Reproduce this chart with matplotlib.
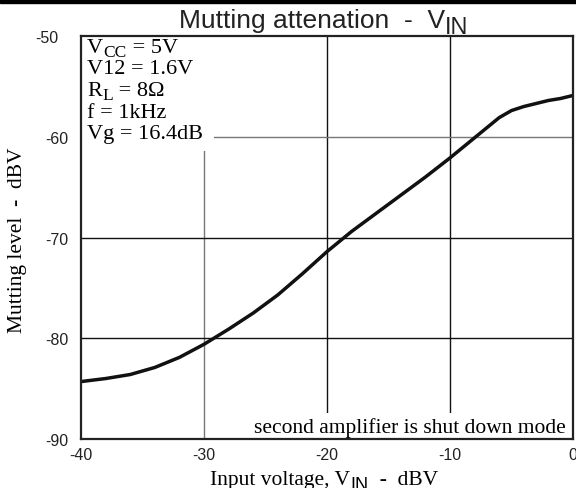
import matplotlib
matplotlib.use("Agg")
import matplotlib.pyplot as plt
from matplotlib.patches import Rectangle
import matplotlib.transforms as mtransforms

plt.rcParams['axes.unicode_minus'] = False

# Data
vin = [-40, -38, -36, -34, -32, -30, -28, -26, -24, -22, -20, -18, -16, -14,
       -12, -10, -8, -6, -5, -4, -3, -2, -1, 0]
mute = [-84.3, -84.0, -83.6, -82.9, -81.9, -80.6, -79.1, -77.5, -75.7, -73.6,
        -71.4, -69.4, -67.6, -65.8, -64.0, -62.1, -60.1, -58.1, -57.4, -57.0,
        -56.7, -56.4, -56.2, -55.9]
xticks = [-40, -30, -20, -10, 0]
yticks = [-90, -80, -70, -60, -50]
# (main, subscript, rest)
conditions = [('V', 'CC', ' = 5V'), ('V12 = 1.6V', '', ''), ('R', 'L', ' = 8Ω'),
              ('f = 1kHz', '', ''), ('Vg = 16.4dB', '', '')]

W, H = 576, 489
fig = plt.figure(figsize=(W/100, H/100), dpi=100)
fig.patches.append(Rectangle((0, 1 - 4/H), 1, 4/H, transform=fig.transFigure,
                             color='black', zorder=5))
L, R, T, B = 81, 573, 37, 440
ax = fig.add_axes([L/W, 1 - B/H, (R - L)/W, (B - T)/H])

ax.set_xlim(-40, 0)
ax.set_ylim(-90, -50)
ax.set_xticks(xticks)
ax.set_yticks(yticks)
ax.tick_params(length=0, labelsize=11.5)
ax.tick_params(axis='y', pad=9)
ax.tick_params(axis='x', pad=6)
for lab in ax.get_xticklabels() + ax.get_yticklabels():
    lab.set_fontfamily('Liberation Sans')
    lab.set_color('#222222')
# top y label sits a bit further left in the reference
top_lab = ax.get_yticklabels()[-1]
top_lab.set_transform(top_lab.get_transform() +
                      mtransforms.ScaledTranslation(-10/100, 0, fig.dpi_scale_trans))
for s in ax.spines.values():
    s.set_linewidth(1.6)
    s.set_color('#222222')
    s.set_zorder(6)

grid_colors = {-30: '#777777', -20: '#111111', -10: '#111111'}
for xv, c in grid_colors.items():
    ax.axvline(xv, color=c, lw=1.0, zorder=1)
hgrid_colors = {-60: '#777777', -70: '#111111', -80: '#111111'}
for yv, c in hgrid_colors.items():
    ax.axhline(yv, color=c, lw=1.0, zorder=1)

ax.plot(vin, mute, color='#111111', lw=2.5, zorder=3, solid_capstyle='butt',
        solid_joinstyle='round')

# white box behind condition text
ax.add_patch(Rectangle((0, 1 - 115/403), 133/492, 115/403, transform=ax.transAxes,
                       facecolor='white', edgecolor='none', zorder=2))

serif = 'Liberation Serif'
sans = 'Liberation Sans'

for i, (a, sub, rest) in enumerate(conditions):
    ybase = 53 + i * 21.5
    t = ax.text(0.012, (B - ybase)/(B - T), a, transform=ax.transAxes,
                va='baseline', ha='left', fontsize=16, family=serif, zorder=4)
    if sub:
        s = ax.annotate(sub, xy=(1, 0), xycoords=t, xytext=(0.5, -2.5),
                        textcoords='offset points', ha='left', va='bottom',
                        fontsize=12.5, family=serif, zorder=4, annotation_clip=False)
        ax.annotate(rest, xy=(1, 0), xycoords=s, xytext=(0, 2.5), textcoords='offset points',
                    ha='left', va='bottom', fontsize=16, family=serif, zorder=4,
                    annotation_clip=False)

ax.text(0.985, 0.018, 'second amplifier is shut down mode', transform=ax.transAxes,
        ha='right', va='baseline', fontsize=15.5, family=serif, zorder=4,
        bbox=dict(facecolor='white', edgecolor='none', pad=3))

# title
tt = fig.text(312/W, 1 - 28/H, 'Mutting attenation  -  V', ha='center', va='baseline',
              fontsize=19, family=sans, color='#222222')
ax.annotate('IN', xy=(1, 0), xycoords=tt, xytext=(0, -4), textcoords='offset points',
            ha='left', va='bottom', fontsize=17, family=sans, color='#222222',
            annotation_clip=False)

# y label
fig.text(18/W, 1 - 240/H, 'Mutting level  -  dBV', rotation=90, ha='center', va='center',
         fontsize=15.5, family=serif)

# x label
xl = fig.text(350/W, 1 - 485/H, 'Input voltage, V', ha='right', va='baseline',
              fontsize=15.5, family=serif)
xs = ax.annotate('IN', xy=(1, 0), xycoords=xl, xytext=(0.5, -3), textcoords='offset points',
                 ha='left', va='bottom', fontsize=13, family=sans, annotation_clip=False)
ax.annotate('  -  dBV', xy=(1, 0), xycoords=xs, xytext=(0, 3), textcoords='offset points',
            ha='left', va='bottom', fontsize=15.5, family=serif, annotation_clip=False)

fig.savefig('out.png', dpi=100)
